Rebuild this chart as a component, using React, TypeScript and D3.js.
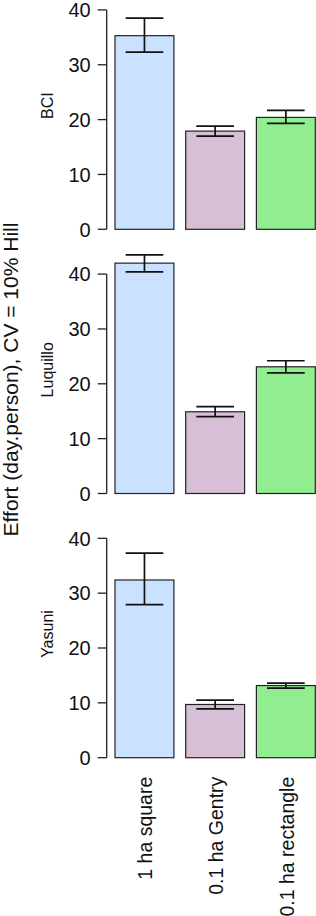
import React from "react";
import * as d3 from "d3";

const width = 316;
const height = 916;

// categories and sites
const categories = ["1 ha square", "0.1 ha Gentry", "0.1 ha rectangle"];
const sites = ["BCI", "Luquillo", "Yasuni"];
const barColors = ["#cae1ff", "#d8bfd8", "#90ee90"];
const yTicks = [0, 10, 20, 30, 40];

// effort means and error bar limits, per site
const meanBCI = [35.3, 17.9, 20.4];
const lowBCI = [32.3, 17.0, 19.3];
const highBCI = [38.5, 18.8, 21.7];

const meanLuquillo = [42.0, 14.9, 23.1];
const lowLuquillo = [40.4, 14.0, 22.0];
const highLuquillo = [43.5, 15.85, 24.2];

const meanYasuni = [32.4, 9.7, 13.15];
const lowYasuni = [27.9, 8.9, 12.7];
const highYasuni = [37.3, 10.5, 13.6];

const means = [meanBCI, meanLuquillo, meanYasuni];
const lows = [lowBCI, lowLuquillo, lowYasuni];
const highs = [highBCI, highLuquillo, highYasuni];

// layout
const axisX = 106.7;
const panelTop = 9.9;
const panelStep = 264.2;
const plotH = 219.4;
const font = "'Liberation Sans', Arial, Helvetica, sans-serif";

export default function App() {
  const x = d3
    .scaleBand<string>()
    .domain(categories)
    .range([115, 315.3])
    .paddingInner(0.2 / 1.2);

  const bw = x.bandwidth();
  const capHalf = bw * 0.32;

  const lastZero = panelTop + 2 * panelStep + plotH;

  return (
    <svg
      width={width}
      height={height}
      style={{ position: "absolute", left: 0, top: 0, background: "#fff" }}
      fontFamily={font}
    >
      {sites.map((site, i) => {
        const y = d3
          .scaleLinear()
          .domain([0, 40])
          .range([panelTop + i * panelStep + plotH, panelTop + i * panelStep]);
        const mid = (y(0) + y(40)) / 2 - 14;
        return (
          <g key={site}>
            {/* y axis */}
            <line x1={axisX} x2={axisX} y1={y(0)} y2={y(40)} stroke="#222" strokeWidth={1.3} />
            {yTicks.map((t) => (
              <g key={t}>
                <line x1={axisX - 9} x2={axisX} y1={y(t)} y2={y(t)} stroke="#222" strokeWidth={1.3} />
                <text
                  x={axisX - 16}
                  y={y(t)}
                  dy="0.36em"
                  textAnchor="end"
                  fontSize={20}
                  fill="#111"
                >
                  {t}
                </text>
              </g>
            ))}
            {/* site label */}
            <text
              transform={`translate(47,${mid}) rotate(-90)`}
              textAnchor="middle"
              dy="0.35em"
              fontSize={16}
              fill="#111"
            >
              {site}
            </text>
            {/* bars */}
            {categories.map((c, j) => (
              <rect
                key={c}
                x={x(c)}
                y={y(means[i][j])}
                width={bw}
                height={y(0) - y(means[i][j])}
                fill={barColors[j]}
                stroke="#222"
                strokeWidth={1.2}
              />
            ))}
            {/* error bars */}
            {categories.map((c, j) => {
              const cx = (x(c) as number) + bw / 2;
              return (
                <g key={c} stroke="#111" strokeWidth={1.7}>
                  <line x1={cx} x2={cx} y1={y(lows[i][j])} y2={y(highs[i][j])} />
                  <line x1={cx - capHalf} x2={cx + capHalf} y1={y(lows[i][j])} y2={y(lows[i][j])} />
                  <line x1={cx - capHalf} x2={cx + capHalf} y1={y(highs[i][j])} y2={y(highs[i][j])} />
                </g>
              );
            })}
          </g>
        );
      })}

      {/* category labels */}
      {categories.map((c) => (
        <text
          key={c}
          transform={`translate(${(x(c) as number) + bw / 2 + 1},${lastZero + 19}) rotate(-90)`}
          textAnchor="end"
          dy="0.35em"
          fontSize={19.5}
          fill="#111"
        >
          {c}
        </text>
      ))}

      {/* y axis title */}
      <text
        transform={`translate(11,379.5) rotate(-90)`}
        textAnchor="middle"
        dy="0.35em"
        fontSize={21}
        fill="#111"
      >
        Effort (day.person), CV = 10% Hill
      </text>
    </svg>
  );
}
